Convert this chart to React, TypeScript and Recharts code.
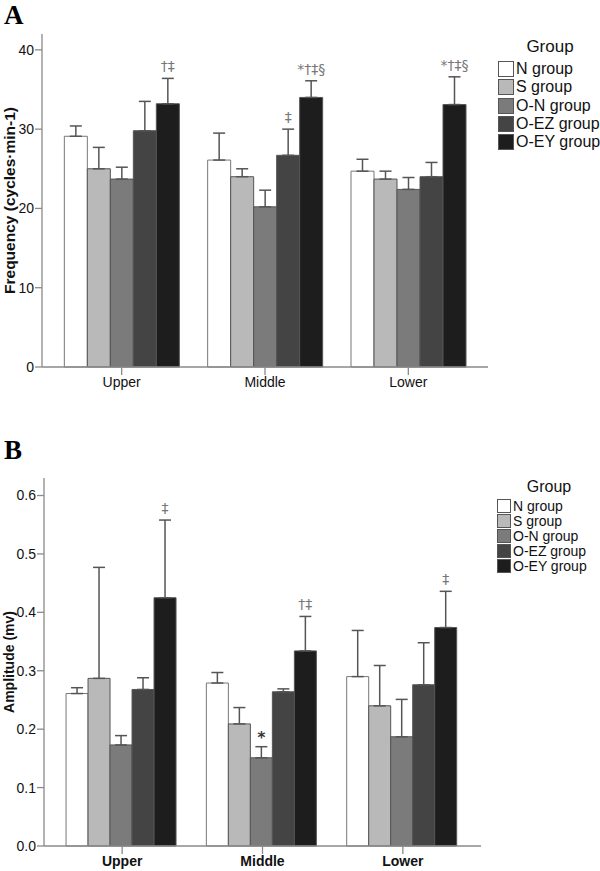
import React from 'react';
import { BarChart, Bar, XAxis, YAxis, ErrorBar, LabelList, Legend } from 'recharts';

const categories = ['Upper', 'Middle', 'Lower'];
const groups = ['N group', 'S group', 'O-N group', 'O-EZ group', 'O-EY group'];

// A: frequency (cycles·min-1), mean and SD per group
const freqN = [29.1, 26.1, 24.7];
const freqS = [25.0, 24.0, 23.7];
const freqON = [23.7, 20.2, 22.4];
const freqEZ = [29.8, 26.7, 24.0];
const freqEY = [33.2, 34.0, 33.1];
const freqSdN = [1.3, 3.4, 1.5];
const freqSdS = [2.7, 1.0, 1.0];
const freqSdON = [1.5, 2.1, 1.5];
const freqSdEZ = [3.7, 3.3, 1.8];
const freqSdEY = [3.2, 2.1, 3.5];
const freqMarksEZ = ['', '‡', ''];
const freqMarksEY = ['†‡', '*†‡§', '*†‡§'];
const freqTicks = [0, 10, 20, 30, 40];

// B: amplitude (mv)
const ampN = [0.261, 0.279, 0.29];
const ampS = [0.287, 0.209, 0.24];
const ampON = [0.173, 0.151, 0.187];
const ampEZ = [0.268, 0.264, 0.276];
const ampEY = [0.425, 0.334, 0.374];
const ampSdN = [0.01, 0.018, 0.079];
const ampSdS = [0.19, 0.028, 0.069];
const ampSdON = [0.016, 0.019, 0.064];
const ampSdEZ = [0.02, 0.005, 0.072];
const ampSdEY = [0.133, 0.059, 0.062];
const ampMarksON = ['', '*', ''];
const ampMarksEY = ['‡', '†‡', '‡'];
const ampTicks = [0, 0.1, 0.2, 0.3, 0.4, 0.5, 0.6];

const fills = ['#ffffff', '#b9b9b9', '#7b7b7b', '#444444', '#1d1d1d'];
const FONT = '"Liberation Sans", Arial, sans-serif';
const AXIS = '#8a8a8a';
const none = ['', '', ''];

function buildRows(means: number[][], sds: number[][], marks: string[][]) {
  return categories.map((cat, i) => {
    const row: any = { cat };
    groups.forEach((_, g) => {
      row[`m${g}`] = means[g][i];
      row[`s${g}`] = sds[g][i];
      row[`e${g}`] = [0, sds[g][i]];
      row[`k${g}`] = marks[g][i];
    });
    return row;
  });
}

const freqRows = buildRows(
  [freqN, freqS, freqON, freqEZ, freqEY],
  [freqSdN, freqSdS, freqSdON, freqSdEZ, freqSdEY],
  [none, none, none, freqMarksEZ, freqMarksEY]
);
const ampRows = buildRows(
  [ampN, ampS, ampON, ampEZ, ampEY],
  [ampSdN, ampSdS, ampSdON, ampSdEZ, ampSdEY],
  [none, none, ampMarksON, none, ampMarksEY]
);

// significance marks sit just above the error bar cap
const markLabel = (rows: any[], g: number) => (props: any) => {
  const { value, index } = props;
  if (!value) return null;
  const vb = props.viewBox || props;
  const x = vb.x ?? props.x;
  const y = vb.y ?? props.y;
  const w = vb.width ?? props.width;
  const h = Math.abs(vb.height ?? props.height);
  const mean = rows[index][`m${g}`];
  const sd = rows[index][`s${g}`];
  const top = y - (sd * h) / mean;
  const star = value === '*';
  return (
    <text
      x={x + w / 2}
      y={top - (star ? 4 : 7)}
      textAnchor="middle"
      fontSize={star ? 15 : 14}
      fontWeight={star ? 'bold' : 'normal'}
      fill={star ? '#333' : '#777'}
      fontFamily="DejaVu Sans"
    >
      {value}
    </text>
  );
};

const GroupLegend = ({ box, row, font, titleFont, titleH }: any) => (
  <div style={{ fontFamily: FONT, color: '#111', width: 104 }}>
    <div style={{ fontSize: titleFont, textAlign: 'center', height: titleH, lineHeight: `${titleFont + 2}px` }}>Group</div>
    {groups.map((g, i) => (
      <div key={g} style={{ display: 'flex', alignItems: 'center', height: row, whiteSpace: 'nowrap' }}>
        <span
          style={{
            width: box,
            height: box,
            background: fills[i],
            border: '1px solid #555',
            boxSizing: 'border-box',
            marginRight: 2,
            display: 'inline-block',
            flexShrink: 0,
          }}
        />
        <span style={{ fontSize: font, lineHeight: 1 }}>{g}</span>
      </div>
    ))}
  </div>
);

const Panel = ({ rows, height, margin, yWidth, xHeight, domain, ticks, fmt, title, titleSize, xBold, tickSize, legend }: any) => (
  <BarChart width={600} height={height} data={rows} margin={margin} barCategoryGap="10%" barGap={0}>
    <XAxis
      dataKey="cat"
      height={xHeight}
      padding={{ left: 8, right: 8 }}
      stroke={AXIS}
      strokeWidth={1.3}
      tickSize={8}
      tickMargin={2}
      tick={{ fontSize: 14, fill: '#111', fontFamily: FONT, fontWeight: xBold ? 'bold' : 'normal' }}
    />
    <XAxis xAxisId="top" dataKey="cat" orientation="top" height={0} tick={false} tickLine={false} stroke={AXIS} strokeWidth={1.3} />
    <YAxis
      width={yWidth}
      domain={domain}
      ticks={ticks}
      tickFormatter={fmt}
      stroke={AXIS}
      strokeWidth={1.3}
      tickSize={tickSize}
      tickMargin={1}
      tick={{ fontSize: 14, fill: '#111', fontFamily: FONT }}
      label={(p: any) => {
        const vb = p.viewBox || {};
        const cy = vb.y + vb.height / 2;
        return (
          <text
            x={9}
            y={cy}
            transform={`rotate(-90, 9, ${cy})`}
            textAnchor="middle"
            dominantBaseline="central"
            fontSize={titleSize}
            fontWeight="bold"
            fill="#111"
            fontFamily={FONT}
          >
            {title}
          </text>
        );
      }}
    />
    <YAxis yAxisId="right" orientation="right" width={0} domain={domain} tick={false} tickLine={false} stroke={AXIS} strokeWidth={1.3} />
    {groups.map((g, i) => (
      <Bar key={g} dataKey={`m${i}`} name={g} fill={fills[i]} stroke={i === 0 ? '#777' : '#555'} strokeWidth={1} isAnimationActive={false}>
        <ErrorBar dataKey={`e${i}`} width={6} stroke="#555" strokeWidth={1.5} direction="y" isAnimationActive={false} />
        <LabelList dataKey={`k${i}`} content={markLabel(rows, i)} />
      </Bar>
    ))}
    <Legend
      layout="vertical"
      align="center"
      verticalAlign="middle"
      wrapperStyle={{ left: legend.left, top: legend.top, width: 104 }}
      content={() => <GroupLegend {...legend} />}
    />
  </BarChart>
);

export default function App() {
  return (
    <div style={{ position: 'absolute', left: 0, top: 0, width: 600, height: 871, background: '#fff' }}>
      <div style={{ position: 'absolute', left: 0, top: 0 }}>
        <Panel
          rows={freqRows}
          height={400}
          margin={{ top: 34, right: 112, bottom: 3, left: 0 }}
          yWidth={42}
          xHeight={30}
          domain={[0, 42]}
          ticks={freqTicks}
          fmt={(v: number) => String(v)}
          title="Frequency (cycles·min-1)"
          titleSize={15.5}
          xBold={false}
          tickSize={7}
          legend={{ left: 498, top: 37, box: 16, row: 18.3, font: 16, titleFont: 17, titleH: 23 }}
        />
      </div>
      <div style={{ position: 'absolute', left: 0, top: 440 }}>
        <Panel
          rows={ampRows}
          height={431}
          margin={{ top: 38, right: 119, bottom: 0, left: 0 }}
          yWidth={44}
          xHeight={25}
          domain={[0, 0.63]}
          ticks={ampTicks}
          fmt={(v: number) => v.toFixed(1)}
          title="Amplitude (mv)"
          titleSize={14}
          xBold={true}
          tickSize={7}
          legend={{ left: 497, top: 38, box: 14, row: 15, font: 14, titleFont: 16, titleH: 20 }}
        />
      </div>
      <div style={{ position: 'absolute', left: 4, top: 2, fontFamily: '"Liberation Serif", serif', fontWeight: 'bold', fontSize: 27, lineHeight: '27px' }}>A</div>
      <div style={{ position: 'absolute', left: 4, top: 437, fontFamily: '"Liberation Serif", serif', fontWeight: 'bold', fontSize: 27, lineHeight: '27px' }}>B</div>
    </div>
  );
}
